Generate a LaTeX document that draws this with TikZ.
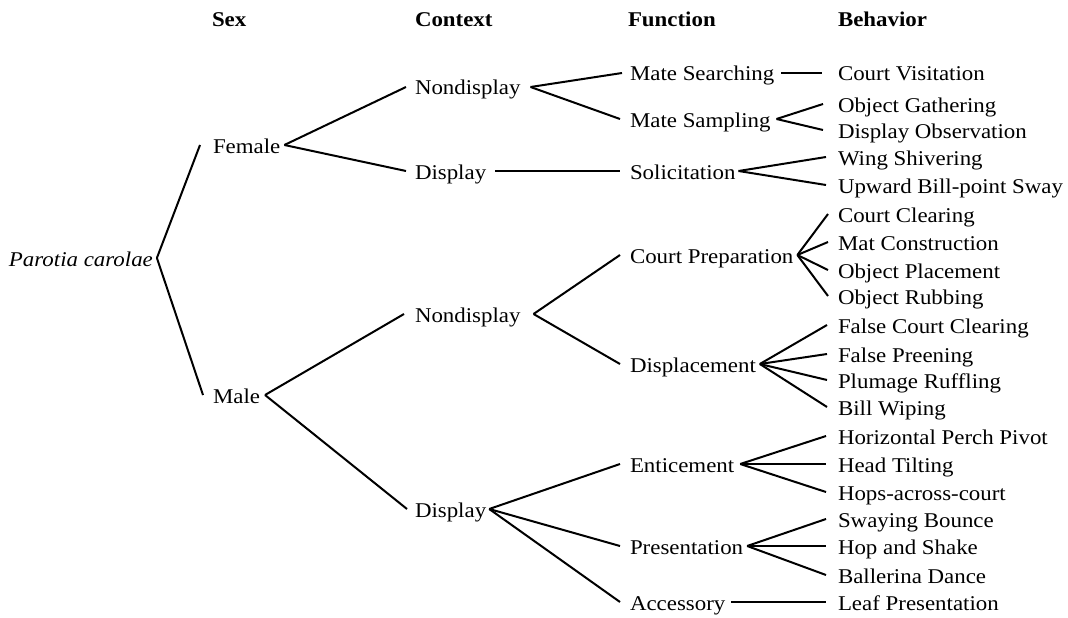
\documentclass[tikz,border=0pt]{standalone}
\usepackage{fontspec}
\setmainfont{Liberation Serif}[FakeStretch=1.09]
% connector from the right end of #1 to the left end of #2, with gaps #3 and #4
\newcommand\conn[4]{\draw ([xshift=#3pt,yshift=8pt]#1.base east) -- ([xshift=-#4pt,yshift=8pt]#2.base west);}
\begin{document}
\begin{tikzpicture}[x=1pt,y=-1pt,line width=2pt,
  lbl/.style={anchor=base west,inner sep=0pt,font=\fontsize{21}{24}\selectfont},
  head/.style={lbl,font=\fontsize{21}{24}\selectfont\bfseries}]
\useasboundingbox (0,0) rectangle (1068,618);

% column headings
\node[head] (hsex) at (211,27) {Sex};
\node[head] (hctx) at (414,27) {Context};
\node[head] (hfun) at (627,27) {Function};
\node[head] (hbeh) at (837,27) {Behavior};

% species
\node[lbl,font=\fontsize{21}{24}\selectfont\itshape] (root) at (8,266) {Parotia carolae};

% sex
\node[lbl] (female) at (212,153) {Female};
\node[lbl] (male) at (212,403) {Male};

% context
\node[lbl] (fnd) at (414,95) {Nondisplay};
\node[lbl] (fdi) at (414,179) {Display};
\node[lbl] (mnd) at (414,322) {Nondisplay};
\node[lbl] (mdi) at (414,517) {Display};

% function
\node[lbl] (msearch) at (629,81) {Mate Searching};
\node[lbl] (msamp) at (629,127) {Mate Sampling};
\node[lbl] (solic) at (629,179) {Solicitation};
\node[lbl] (cprep) at (629,263) {Court Preparation};
\node[lbl] (displ) at (629,372) {Displacement};
\node[lbl] (entic) at (629,472) {Enticement};
\node[lbl] (pres) at (629,554) {Presentation};
\node[lbl] (acc) at (629,610) {Accessory};

% behavior
\node[lbl] (cv) at (837,81) {Court Visitation};
\node[lbl] (og) at (837,112) {Object Gathering};
\node[lbl] (do) at (837,138) {Display Observation};
\node[lbl] (ws) at (837,165) {Wing Shivering};
\node[lbl] (ub) at (837,193) {Upward Bill-point Sway};
\node[lbl] (cc) at (837,222) {Court Clearing};
\node[lbl] (mc) at (837,250) {Mat Construction};
\node[lbl] (op) at (837,278) {Object Placement};
\node[lbl] (orb) at (837,304) {Object Rubbing};
\node[lbl] (fcc) at (837,333) {False Court Clearing};
\node[lbl] (fp) at (837,362) {False Preening};
\node[lbl] (pr) at (837,388) {Plumage Ruffling};
\node[lbl] (bw) at (837,415) {Bill Wiping};
\node[lbl] (hpp) at (837,444) {Horizontal Perch Pivot};
\node[lbl] (ht) at (837,472) {Head Tilting};
\node[lbl] (hac) at (837,500) {Hops-across-court};
\node[lbl] (sb) at (837,527) {Swaying Bounce};
\node[lbl] (hs) at (837,554) {Hop and Shake};
\node[lbl] (bd) at (837,583) {Ballerina Dance};
\node[lbl] (lp) at (837,610) {Leaf Presentation};

% connectors
\conn{root}{female}{3}{12}
\conn{root}{male}{3}{9}
\conn{female}{fnd}{3}{8}
\conn{female}{fdi}{3}{8}
\conn{male}{mnd}{4}{10}
\conn{male}{mdi}{4}{7}
\conn{fnd}{msearch}{9}{7}
\conn{fnd}{msamp}{9}{9}
\conn{fdi}{solic}{8}{9}
\conn{mnd}{cprep}{12}{9}
\conn{mnd}{displ}{12}{9}
\conn{mdi}{entic}{2}{9}
\conn{mdi}{pres}{2}{9}
\conn{mdi}{acc}{2}{9}
\conn{msearch}{cv}{6}{15}
\conn{msamp}{og}{5}{14}
\conn{msamp}{do}{5}{14}
\conn{solic}{ws}{2}{11}
\conn{solic}{ub}{2}{11}
\conn{cprep}{cc}{3}{9}
\conn{cprep}{mc}{3}{9}
\conn{cprep}{op}{3}{9}
\conn{cprep}{orb}{3}{9}
\conn{displ}{fcc}{3}{10}
\conn{displ}{fp}{3}{10}
\conn{displ}{pr}{3}{10}
\conn{displ}{bw}{3}{10}
\conn{entic}{hpp}{5}{11}
\conn{entic}{ht}{5}{11}
\conn{entic}{hac}{5}{11}
\conn{pres}{sb}{3}{11}
\conn{pres}{hs}{3}{11}
\conn{pres}{bd}{3}{11}
\conn{acc}{lp}{5}{11}
\end{tikzpicture}
\end{document}
